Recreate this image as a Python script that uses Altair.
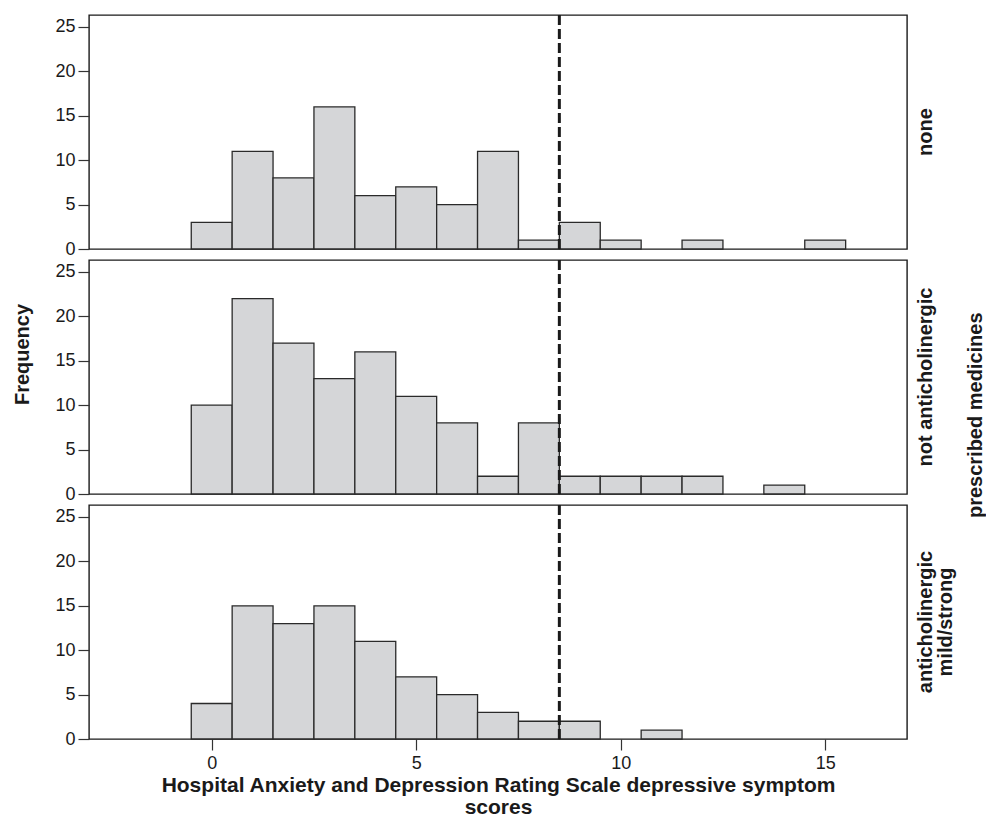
import altair as alt
import pandas as pd

# ---- data ----
group_keys = ["none", "not anticholinergic", "anticholinergic mild/strong"]
group_titles = [["none"], ["not anticholinergic"], ["anticholinergic", "mild/strong"]]
scores = list(range(16))
counts_none = [3, 11, 8, 16, 6, 7, 5, 11, 1, 3, 1, 0, 1, 0, 0, 1]
counts_not_anti = [10, 22, 17, 13, 16, 11, 8, 2, 8, 2, 2, 2, 2, 0, 1, 0]
counts_anti = [4, 15, 13, 15, 11, 7, 5, 3, 2, 2, 0, 1, 0, 0, 0, 0]
cutoff = 8.5
y_ticks = [0, 5, 10, 15, 20, 25]
x_ticks = [0, 5, 10, 15]

rows = []
for g, cs in zip(group_keys, [counts_none, counts_not_anti, counts_anti]):
    for s, c in zip(scores, cs):
        rows.append({"group": g, "score": s, "count": c, "cutoff": cutoff})
df = pd.DataFrame(rows)

FONT = "Liberation Sans, Arial"
INK = "#1a1a1a"

x_scale = alt.Scale(domain=[-3, 17], nice=False, zero=False)
y_scale = alt.Scale(domain=[0, 26.35], nice=False)


def panel(key, title_lines, bottom, ytitle, title_y=None):
    if bottom:
        x_axis = alt.Axis(
            values=x_ticks,
            title=["Hospital Anxiety and Depression Rating Scale depressive symptom", "scores"],
        )
    else:
        x_axis = None
    y_axis_args = dict(values=y_ticks, title=ytitle)
    if title_y is not None:
        y_axis_args["titleY"] = title_y
    bars = (
        alt.Chart(df)
        .transform_filter(alt.datum.group == key)
        .transform_filter("datum.count > 0")
        .transform_calculate(x0="datum.score - 0.5", x1="datum.score + 0.5")
        .mark_rect(fill="#d5d6d8", stroke="#2a2a2a", strokeWidth=1.3)
        .encode(
            x=alt.X("x0:Q", scale=x_scale, axis=x_axis),
            x2="x1:Q",
            y=alt.Y("count:Q", scale=y_scale, axis=alt.Axis(**y_axis_args)),
            y2=alt.Y2(datum=0),
        )
    )
    rule = (
        alt.Chart(df)
        .transform_filter(alt.datum.group == key)
        .transform_filter("datum.score == 0")
        .mark_rule(color=INK, strokeWidth=3, strokeDash=[10, 4])
        .encode(x=alt.X("cutoff:Q", scale=x_scale))
    )
    return alt.layer(bars, rule).properties(
        width=818,
        height=234,
        title=alt.TitleParams(
            text=title_lines,
            orient="right",
            angle=270,
            anchor="middle",
            baseline="top",
            font=FONT,
            fontSize=20,
            fontWeight="bold",
            color=INK,
            lineHeight=20,
            offset=9 - 20 * len(title_lines),
        ),
    )


p1 = panel(group_keys[0], group_titles[0], False, " ")
p2 = panel(group_keys[1], group_titles[1], False, "Frequency", title_y=94)
p3 = panel(group_keys[2], group_titles[2], True, " ")

chart = (
    alt.vconcat(p1, p2, p3, spacing=11, bounds="flush")
    .properties(
        title=alt.TitleParams(
            text="prescribed medicines",
            orient="right",
            angle=270,
            anchor="middle",
            baseline="top",
            font=FONT,
            fontSize=20,
            fontWeight="bold",
            color=INK,
            offset=-11,
        )
    )
    .configure_view(stroke=INK, strokeWidth=1.4)
    .configure_axis(
        grid=False,
        domain=False,
        tickColor="#333333",
        tickSize=11,
        tickWidth=1.2,
        labelFont=FONT,
        labelFontSize=18,
        labelColor=INK,
        titleFont=FONT,
        titleFontSize=20,
        titleFontWeight="bold",
        titleColor=INK,
    )
    .configure_axisY(labelPadding=3, titlePadding=22)
    .configure_axisX(labelPadding=4, titlePadding=2, titleFontSize=21, titleLineHeight=22)
    .properties(padding={"left": 4, "top": 4, "right": 0, "bottom": 0})
)

chart.save("out.html", embed_options={"renderer": "svg", "actions": False})
